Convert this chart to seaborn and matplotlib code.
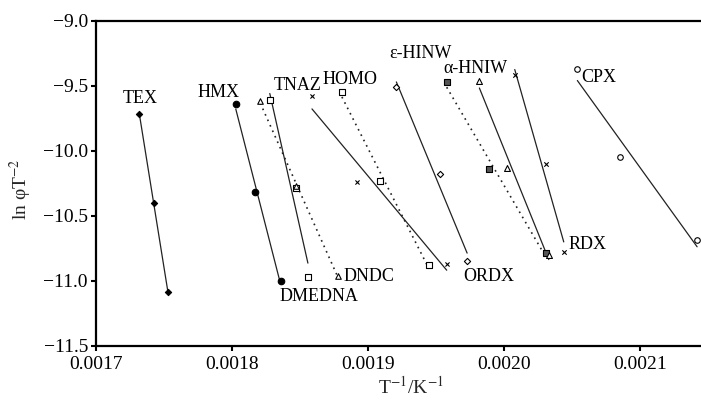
import matplotlib
matplotlib.use("Agg")
import matplotlib.pyplot as plt
import seaborn as sns
import numpy as np
from matplotlib.ticker import FuncFormatter, FixedLocator

# ---------------- data ----------------
tex_x = [0.001732, 0.001743, 0.001753]
tex_y = [-9.72, -10.40, -11.09]
hmx_x = [0.001803, 0.001817, 0.001836]
hmx_y = [-9.64, -10.32, -11.00]
dmedna_x = [0.001828, 0.001847, 0.001856]
dmedna_y = [-9.61, -10.29, -10.97]
dndc_x = [0.001821, 0.001847, 0.001878]
dndc_y = [-9.62, -10.27, -10.96]
tnaz_x = [0.001859, 0.001892, 0.001958]
tnaz_y = [-9.58, -10.24, -10.87]
homo_x = [0.001881, 0.001909, 0.001945]
homo_y = [-9.55, -10.23, -10.88]
ehniw_x = [0.001921, 0.001953, 0.001973]
ehniw_y = [-9.51, -10.18, -10.85]
ordx_x = [0.001958, 0.001989, 0.002031]
ordx_y = [-9.47, -10.14, -10.79]
ahniw_x = [0.001982, 0.002002, 0.002033]
ahniw_y = [-9.46, -10.13, -10.80]
rdx_x = [0.002008, 0.002031, 0.002044]
rdx_y = [-9.42, -10.10, -10.78]
cpx_x = [0.002054, 0.002085, 0.002142]
cpx_y = [-9.37, -10.05, -10.69]

label_names = ["TEX", "HMX", "TNAZ", "HOMO", "ε-HINW", "α-HNIW", "CPX",
               "RDX", "ORDX", "DNDC", "DMEDNA"]
label_x = [0.001733, 0.001790, 0.0018483, 0.0018869, 0.001939, 0.0019788,
           0.0020699, 0.0020611, 0.0019890, 0.0019010, 0.0018643]
label_y = [-9.60, -9.555, -9.495, -9.456, -9.256, -9.364,
           -9.44, -10.718, -10.969, -10.969, -11.125]

x_ticks = [0.0017, 0.0018, 0.0019, 0.0020, 0.0021]
y_ticks = [-11.5, -11.0, -10.5, -10.0, -9.5, -9.0]

# ---------------- style ----------------
sns.set_theme(style="ticks")
plt.rcParams["font.family"] = ["Liberation Serif", "DejaVu Serif"]
plt.rcParams["mathtext.fontset"] = "stix"

fig = plt.figure(figsize=(7.01, 4.03), dpi=100)
ax = fig.add_axes([95.6 / 701, 1 - 345.7 / 403, (708 - 95.6) / 701, 325 / 403])

line_col = "#222222"
dotted = (0, (1, 2.6))

series = [
    (tex_x, tex_y, "D", dict(s=10, facecolors="black", edgecolors="black"), "-"),
    (hmx_x, hmx_y, "o", dict(s=22, facecolors="black", edgecolors="black"), "-"),
    (dmedna_x, dmedna_y, "s", dict(s=16, facecolors="white", edgecolors="black"), "-"),
    (dndc_x, dndc_y, "^", dict(s=16, facecolors="white", edgecolors="black"), dotted),
    (tnaz_x, tnaz_y, "x", dict(s=9, color="black"), "-"),
    (homo_x, homo_y, "s", dict(s=16, facecolors="white", edgecolors="black"), dotted),
    (ehniw_x, ehniw_y, "D", dict(s=10, facecolors="white", edgecolors="black"), "-"),
    (ordx_x, ordx_y, "s", dict(s=18, facecolors="#555555", edgecolors="black"), dotted),
    (ahniw_x, ahniw_y, "^", dict(s=18, facecolors="white", edgecolors="black"), "-"),
    (rdx_x, rdx_y, "x", dict(s=10, color="black"), "-"),
    (cpx_x, cpx_y, "o", dict(s=16, facecolors="white", edgecolors="black"), "-"),
]

for xs, ys, mk, skw, ls in series:
    skw = dict(skw)
    skw["alpha"] = 1
    skw["linewidths"] = 0.8
    skw["zorder"] = 3
    lw = 1.2 if ls == dotted else 0.9
    sns.regplot(x=np.array(xs), y=np.array(ys), ax=ax, ci=None, marker=mk,
                color="black", truncate=True, scatter_kws=skw,
                line_kws=dict(color=line_col, lw=lw, ls=ls, zorder=2))

for name, tx, ty in zip(label_names, label_x, label_y):
    ax.text(tx, ty, name, ha="center", va="center", fontsize=13, color="black")

ax.set_xlim(0.0017, 0.00215)
ax.set_ylim(-11.5, -9.0)
ax.xaxis.set_major_locator(FixedLocator(x_ticks))
ax.yaxis.set_major_locator(FixedLocator(y_ticks))
ax.xaxis.set_major_formatter(FuncFormatter(lambda v, p: f"{v:.4f}"))
ax.yaxis.set_major_formatter(FuncFormatter(lambda v, p: f"{v:.1f}".replace("-", "\u2212")))
ax.tick_params(axis="both", direction="out", length=3.5, width=1.5,
               labelsize=14, colors="black")
ax.tick_params(axis="y", pad=2)
ax.tick_params(axis="x", pad=4)

for side in ["left", "bottom", "top"]:
    ax.spines[side].set_linewidth(1.6)
    ax.spines[side].set_color("black")
ax.spines["right"].set_visible(False)

ax.set_xlabel(r"T$^{-1}$/K$^{-1}$", fontsize=14)
ax.set_ylabel(r"ln φT$^{-2}$", fontsize=14)
ax.xaxis.set_label_coords((411 - 95.6) / 612.4, -(376 - 345.7) / 325)
ax.yaxis.set_label_coords((34 - 95.6) / 612.4, 0.48)

fig.savefig("out.png", dpi=100)
